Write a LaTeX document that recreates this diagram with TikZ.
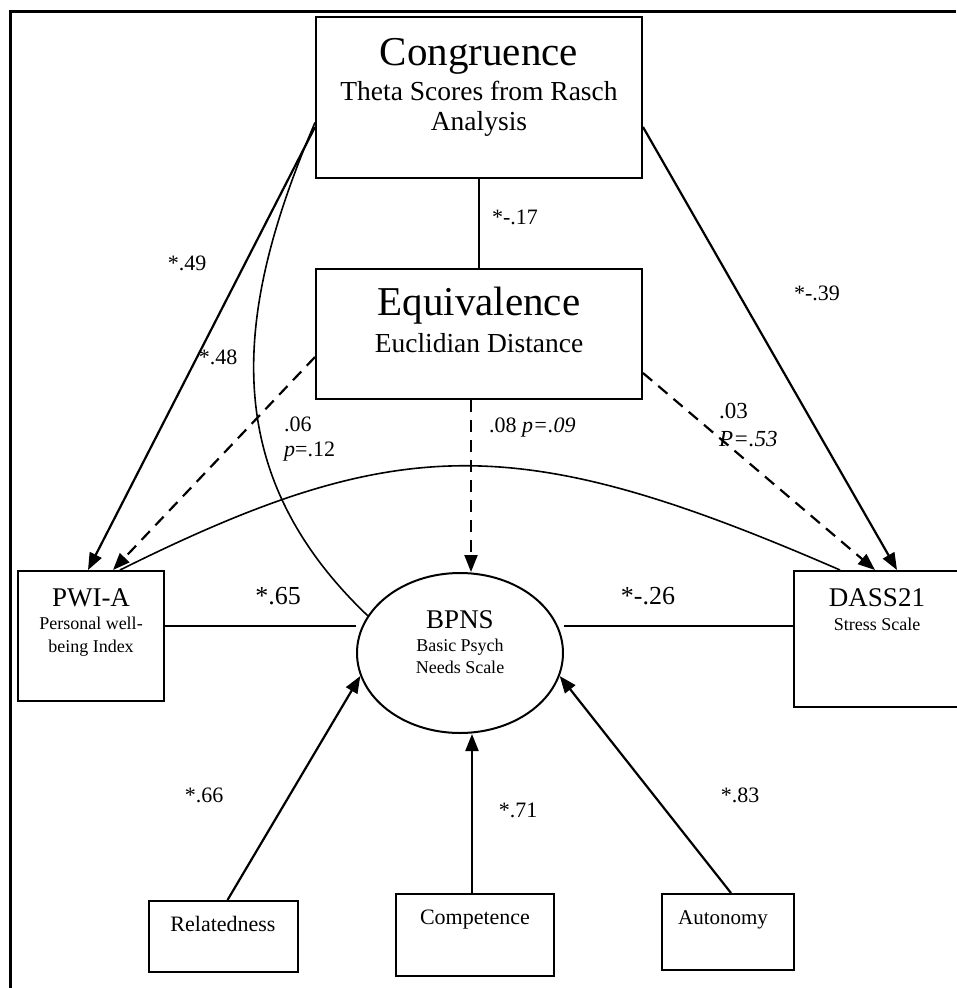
\documentclass[tikz,border=0pt]{standalone}
\usepackage{fontspec}
\setmainfont{Liberation Serif}
\usetikzlibrary{arrows.meta,shapes.geometric,positioning}

\begin{document}
\begin{tikzpicture}[x=1pt,y=-1pt,
    box/.style={draw,line width=2pt,inner sep=0pt},
    ttl/.style={font=\fontsize{41}{45}\selectfont,inner sep=0pt,anchor=base},
    sub/.style={font=\fontsize{27.5}{30}\selectfont,inner sep=0pt},
    vname/.style={font=\fontsize{27}{30}\selectfont,inner sep=0pt,anchor=base},
    vdesc/.style={font=\fontsize{18}{23}\selectfont,inner sep=0pt},
    coef/.style={font=\fontsize{22}{26}\selectfont,inner sep=0pt},
    sig/.style={line width=2.2pt,-{Triangle[length=17pt,width=13pt]}},
    nsig/.style={line width=2.2pt,dash pattern=on 12pt off 8pt,-{Triangle[length=17pt,width=13pt]}},
    link/.style={line width=1.6pt}]
  \useasboundingbox (0,0) rectangle (956,988);
  % frame
  \draw[line width=3pt] (956,11) -- (10,11) -- (10,988);

  % measures
  \node[box,minimum width=326pt,minimum height=161pt] (congr) at (479,97.5) {};
  \node[box,minimum width=326pt,minimum height=130pt] (equiv) at (479,334) {};
  \node[box,minimum width=146pt,minimum height=130pt] (pwi) at (91,636) {};
  \node[box,minimum width=168pt,minimum height=136pt] (dass) at (878,639) {};
  \node[box,ellipse,minimum width=206pt,minimum height=160pt] (bpns) at (460,653) {};
  \node[box,minimum width=149pt,minimum height=71pt] (rel) at (223.5,936.5) {};
  \node[box,minimum width=158pt,minimum height=82pt] (comp) at (475,935) {};
  \node[box,minimum width=132pt,minimum height=76pt] (auton) at (728,932) {};

  \node[ttl] (congrt) at (479,65) {Congruence};
  \node[sub,align=center,anchor=north] (congrs) at (479,81) {Theta Scores from Rasch\\Analysis};
  \node[ttl] (equivt) at (479,315) {Equivalence};
  \node[sub,anchor=base] (equivs) at (479,352) {Euclidian Distance};
  \node[vname] (pwit) at (91,606) {PWI-A};
  \node[vdesc,align=center,anchor=north] (pwis) at (91,617) {Personal well-\\being Index};
  \node[vname] (dasst) at (877,606) {DASS21};
  \node[vdesc,anchor=base] (dasss) at (877,630) {Stress Scale};
  \node[vname] (bpnst) at (460,628) {BPNS};
  \node[vdesc,align=center,anchor=north,font=\fontsize{18}{22}\selectfont] (bpnss) at (460,639) {Basic Psych\\Needs Scale};
  \node[coef,anchor=base] (relt) at (223,931) {Relatedness};
  \node[coef,anchor=base] (compt) at (475,924) {Competence};
  \node[coef,anchor=base,font=\fontsize{21}{24}\selectfont] (autont) at (723,924) {Autonomy};

  % paths
  \draw[link] (congr.south) -- (equiv.north);
  \draw[sig] ([yshift=-29.5pt]congr.west) -- ([xshift=-3pt]pwi.north);
  \draw[sig] ([yshift=-29.5pt]congr.east) -- ([xshift=19pt]dass.north);
  \draw[link] ([yshift=-25pt]congr.west) .. controls (235,310) and (215,470) .. (bpns.158);
  \draw[nsig] ([yshift=-23pt]equiv.west) -- ([xshift=22pt]pwi.north);
  \draw[nsig] ([yshift=-39pt]equiv.east) -- ([xshift=-3pt]dass.north);
  \draw[nsig] ([xshift=-8pt]equiv.south) -- ([xshift=-8pt]equiv.south |- bpns.north);
  \draw[link] ([xshift=-38pt]dass.north) .. controls (520,431) and (400,431) .. ([xshift=29pt]pwi.north);
  \draw[link] ([yshift=10pt]pwi.east) -- ([yshift=10pt]pwi.east -| bpns.west);
  \draw[link] ([yshift=13pt]dass.west) -- ([yshift=13pt]dass.west -| bpns.east);
  \draw[sig] ([xshift=4pt]rel.north) -- (bpns.193);
  \draw[sig] ([xshift=-3pt]comp.north) -- ([xshift=-3pt]comp.north |- bpns.south);
  \draw[sig] ([xshift=3pt]auton.north) -- (bpns.347);

  % coefficients
  \node[coef] (c17) at (515,217) {*-.17};
  \node[coef] (c49) at (187,263) {*.49};
  \node[coef] (c48) at (218,357) {*.48};
  \node[coef] (c39) at (817,293) {*-.39};
  \node[coef,align=left,anchor=north west,font=\fontsize{22}{25}\selectfont] (c06) at (284,417) {.06\\\textit{p}=.12};
  \node[coef,anchor=base west] (c08) at (489,432) {.08 \textit{p=.09}};
  \node[coef,align=left,anchor=north west,font=\fontsize{23}{28}\selectfont] (c03) at (719,403) {.03\\\textit{P=.53}};
  \node[coef,font=\fontsize{26}{30}\selectfont] (c65) at (278,596) {*.65};
  \node[coef,font=\fontsize{26}{30}\selectfont] (c26) at (648,596) {*-.26};
  \node[coef] (c66) at (204,795) {*.66};
  \node[coef] (c71) at (518,810) {*.71};
  \node[coef] (c83) at (740,795) {*.83};
\end{tikzpicture}
\end{document}
